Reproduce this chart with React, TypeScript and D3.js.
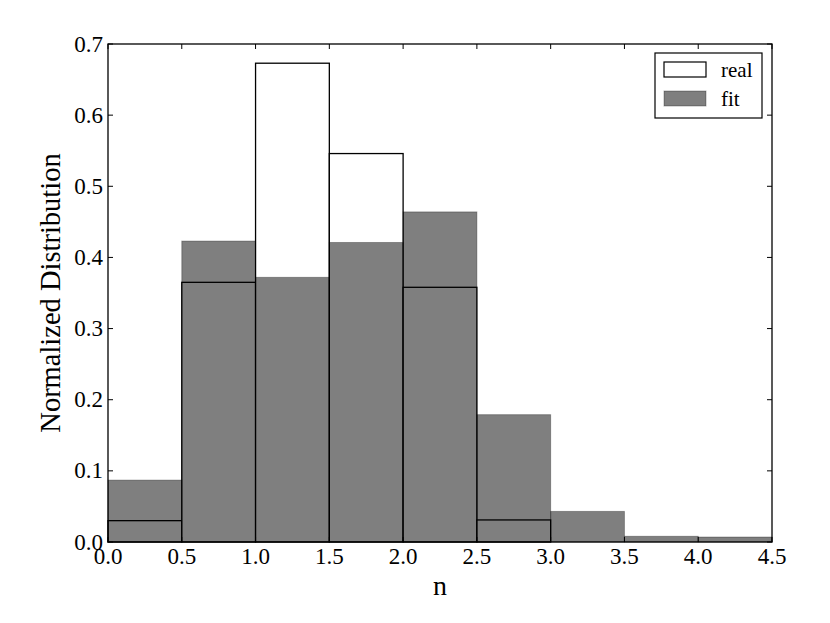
import React from "react";
import * as d3 from "d3";

const binEdges = [0, 0.5, 1.0, 1.5, 2.0, 2.5, 3.0, 3.5, 4.0, 4.5];
const realValues = [0.030, 0.365, 0.673, 0.546, 0.358, 0.031, 0, 0, 0];
const fitValues = [0.087, 0.423, 0.372, 0.421, 0.464, 0.179, 0.043, 0.008, 0.007];
const xTicks = [0, 0.5, 1.0, 1.5, 2.0, 2.5, 3.0, 3.5, 4.0, 4.5];
const yTicks = [0, 0.1, 0.2, 0.3, 0.4, 0.5, 0.6, 0.7];
const legendLabels = ["real", "fit"];

const W = 830, H = 623;
const L = 108, R = 772, T = 44, B = 542;
const FONT = "'Liberation Serif', 'DejaVu Serif', serif";

export default function App() {
  const x = d3.scaleLinear().domain([0, 4.5]).range([L, R]);
  const y = d3.scaleLinear().domain([0, 0.7]).range([B, T]);
  const bins = d3.range(binEdges.length - 1);
  return (
    <svg width={W} height={H} style={{ position: "absolute", left: 0, top: 0, background: "#fff" }} fontFamily={FONT}>
      <rect x={0} y={0} width={W} height={H} fill="#fff" />
      {bins.map((i) =>
        realValues[i] > 0 ? (
          <rect key={"r" + i} x={x(binEdges[i])} y={y(realValues[i])} width={x(binEdges[i + 1]) - x(binEdges[i])} height={y(0) - y(realValues[i])} fill="#fff" stroke="#000" strokeWidth={1.3} />
        ) : null
      )}
      {bins.map((i) => (
        <rect key={"f" + i} x={x(binEdges[i])} y={y(fitValues[i])} width={x(binEdges[i + 1]) - x(binEdges[i])} height={y(0) - y(fitValues[i])} fill="#000" fillOpacity={0.5} stroke="#000" strokeOpacity={0.3} strokeWidth={1} />
      ))}
      <rect x={L} y={T} width={R - L} height={B - T} fill="none" stroke="#000" strokeWidth={1.3} />
      {xTicks.map((t) => (
        <g key={"xt" + t}>
          <line x1={x(t)} x2={x(t)} y1={B} y2={B - 5} stroke="#000" />
          <line x1={x(t)} x2={x(t)} y1={T} y2={T + 5} stroke="#000" />
          <text x={x(t)} y={B + 22} fontSize={23} textAnchor="middle">{t.toFixed(1)}</text>
        </g>
      ))}
      {yTicks.map((t) => (
        <g key={"yt" + t}>
          <line x1={L} x2={L + 5} y1={y(t)} y2={y(t)} stroke="#000" />
          <line x1={R} x2={R - 5} y1={y(t)} y2={y(t)} stroke="#000" />
          <text x={L - 5} y={y(t) + 7.5} fontSize={23} textAnchor="end">{t.toFixed(1)}</text>
        </g>
      ))}
      <text x={(L + R) / 2} y={595} fontSize={28} textAnchor="middle">n</text>
      <text transform={`translate(60,${(T + B) / 2}) rotate(-90)`} fontSize={28.5} textAnchor="middle">Normalized Distribution</text>
      <rect x={655} y={53} width={107} height={65} fill="#fff" stroke="#000" strokeWidth={1.2} />
      <rect x={664} y={62} width={42} height={15} fill="#fff" stroke="#000" strokeWidth={1.2} />
      <rect x={664} y={91} width={42} height={15} fill="#000" fillOpacity={0.5} stroke="#000" strokeOpacity={0.3} />
      <text x={721} y={77} fontSize={21}>{legendLabels[0]}</text>
      <text x={721} y={106} fontSize={21}>{legendLabels[1]}</text>
    </svg>
  );
}
